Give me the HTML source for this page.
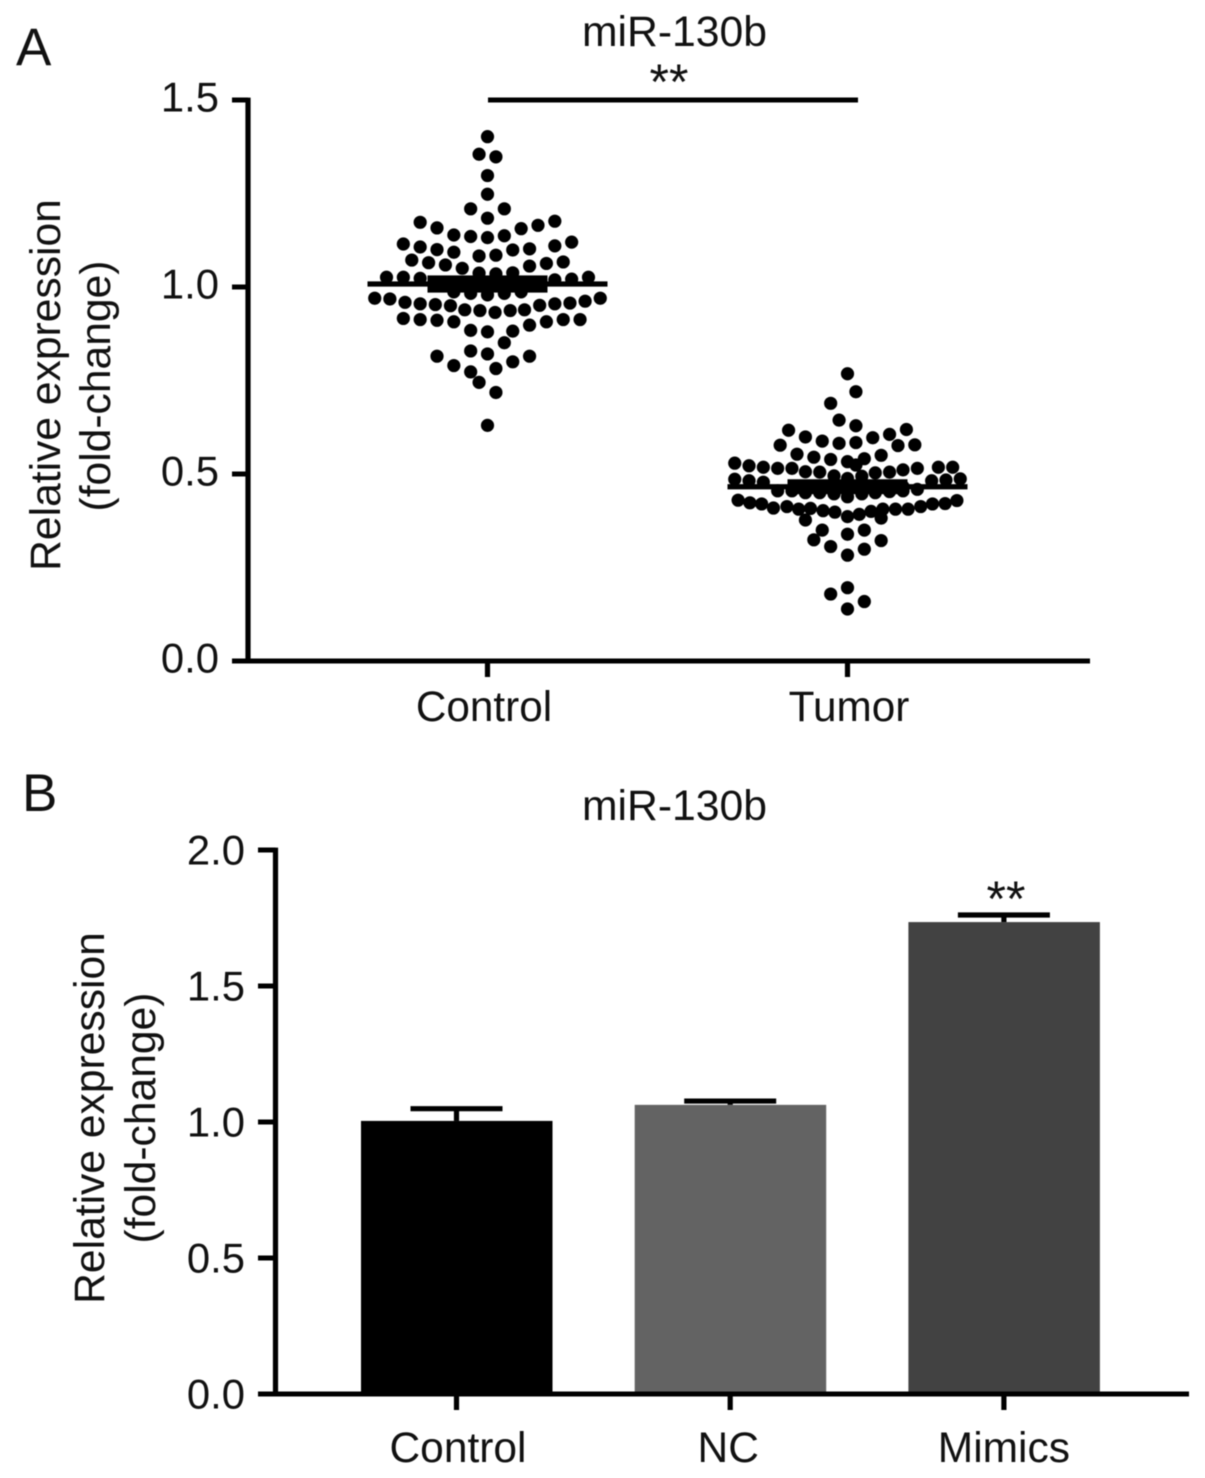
<!DOCTYPE html>
<html lang="en">
<head>
<meta charset="utf-8">
<title>miR-130b relative expression</title>
<style>
html,body{margin:0;padding:0;background:#fff;}
#figure{display:block;width:1205px;height:1478px;filter:blur(0.5px);}
text{font-family:"Liberation Sans",Arial,sans-serif;fill:#111;}
</style>
</head>
<body>
<svg id="figure" xmlns="http://www.w3.org/2000/svg" width="1205" height="1478" viewBox="0 0 1205 1478"></svg>
<script>
/* Panel A data */
const swarmCategories = ['Control', 'Tumor'];
const swarmTicks = [0, 0.5, 1, 1.5];
const swarmTickLabels = ['0.0', '0.5', '1.0', '1.5'];
const swarmMeans = [1.008, 0.466];
const swarmSems = [0.023, 0.02];
const controlValues = [1.402,1.355,1.348,1.298,1.248,1.209,1.209,1.184,1.173,1.158,1.176,1.165,1.156,1.139,1.135,1.132,1.137,1.115,1.107,1.100,1.093,1.083,1.085,1.099,1.102,1.110,1.120,1.072,1.065,1.059,1.050,1.056,1.063,1.067,1.026,1.026,1.023,1.037,1.035,1.038,1.019,1.021,1.026,1.01,1.01,1.0,1.01,1.0,1.01,1.01,0.987,0.983,0.979,0.983,0.987,0.970,0.968,0.959,0.955,0.953,0.950,0.939,0.937,0.932,0.937,0.939,0.951,0.955,0.957,0.962,0.970,0.916,0.913,0.911,0.907,0.884,0.880,0.882,0.898,0.907,0.913,0.913,0.851,0.829,0.821,0.815,0.815,0.800,0.790,0.782,0.773,0.745,0.718,0.630];
const controlSlots = [0,-0.5,0.5,0,0,-1,1,0,-4,-3,4,3,2,-2,-1,0,1,-5,-4,-3,-2,-0.5,0.5,1.5,2.5,4,5,-4.5,-3.5,-2.5,-1.5,2.5,3.5,4.5,-6,-5,-4,-0.5,0.5,1.5,4,5,6,-3,-2,-1,0,1,2,3,-2,-1,0,1,2,-6.7,-5.8,-4.9,-4,-3.1,-2.2,-1.35,-0.45,0.45,1.35,2.2,3.1,4,4.9,5.8,6.7,-5,-4,-3,-2,-1,0,1.5,2.5,3.5,4.5,5.5,1,-1,0,-3,2.5,1.5,-2,0.5,-1,-0.5,0.5,0];
const tumorValues = [0.768,0.720,0.689,0.644,0.629,0.617,0.619,0.606,0.599,0.597,0.588,0.582,0.584,0.577,0.576,0.578,0.553,0.545,0.539,0.533,0.541,0.550,0.524,0.529,0.522,0.518,0.515,0.515,0.506,0.505,0.495,0.488,0.494,0.503,0.505,0.511,0.515,0.518,0.518,0.486,0.482,0.478,0.482,0.484,0.487,0.466,0.466,0.466,0.466,0.466,0.466,0.466,0.455,0.455,0.450,0.450,0.447,0.439,0.447,0.450,0.453,0.455,0.459,0.430,0.423,0.420,0.409,0.413,0.406,0.408,0.402,0.398,0.386,0.392,0.400,0.406,0.406,0.406,0.413,0.420,0.421,0.429,0.377,0.382,0.350,0.339,0.350,0.324,0.322,0.306,0.299,0.283,0.196,0.179,0.159,0.139];
const tumorSlots = [0,0.5,-1,-0.5,0.5,-3.5,3.5,2.5,-2.5,1.5,-1.5,-0.5,0.5,-4,3,4,-3,-2,-1,0,1,2,0.5,-6.7,-5.85,-5,-4.15,-3.3,-2.5,-1.65,-0.8,0,0.85,1.65,2.5,3.3,4.15,5.4,6.25,-6.7,-5.85,-5,5,5.85,6.7,-2.5,-1.65,-0.8,0.85,1.65,2.5,3.3,-4.15,-3.3,-2.5,-1.65,-0.8,0,0.85,1.65,2.5,3.3,4.15,-6.5,-5.8,-5.1,-4.4,-3.6,-2.9,-2.2,-1.45,-0.75,0,0.7,1.4,2.1,2.85,3.6,4.35,5.05,5.8,6.5,-2.5,2,-1.5,0,1,-2,2,-1,1,0,0,-1,1,0];

/* Panel B data */
const barCategories = ['Control', 'NC', 'Mimics'];
const barValues = [1.004, 1.063, 1.735];
const barErrors = [0.045, 0.014, 0.026];
const barTicks = [0, 0.5, 1, 1.5, 2];
const barTickLabels = ['0.0', '0.5', '1.0', '1.5', '2.0'];

const NS = 'http://www.w3.org/2000/svg';
const svg = document.getElementById('figure');

function mk(tag, attrs, parent) {
  const el = document.createElementNS(NS, tag);
  for (const k in attrs) el.setAttribute(k, attrs[k]);
  (parent || svg).appendChild(el);
  return el;
}
function txt(str, x, y, size, anchor, rot, parent) {
  const a = {x: x, y: y, 'font-size': size, 'text-anchor': anchor || 'middle'};
  if (rot) a.transform = 'rotate(-90 ' + x + ' ' + y + ')';
  const t = mk('text', a, parent);
  t.textContent = str;
  return t;
}
function ln(x1, y1, x2, y2, w, parent) {
  return mk('line', {x1: x1, y1: y1, x2: x2, y2: y2, stroke: '#000', 'stroke-width': w}, parent);
}

/* Axis functions */
const yA = v => 661 - v * 374;
const xA = i => 487.5 + i * 360;
const SLOT = 16.83;
const yB = v => 1394 - v * 272;
const xB = i => 456.5 + i * 273.7;

/* ---------- Panel A ---------- */
const panelA = mk('g', {});



const letterA = txt('A', 16, 65, 53, 'start', false, panelA);



const titleA = txt('miR-130b', 674.5, 46, 42.7, 'middle', false, panelA);



const yTitleA1 = txt('Relative expression', 60, 385, 42.6, 'middle', true, panelA);


const yTitleA2 = txt('(fold-change)', 110, 386, 42.6, 'middle', true, panelA);



const yAxisA = ln(248, yA(1.5) - 2.4, 248, yA(0) + 2.4, 5.2, panelA);


const xAxisA = ln(232, yA(0), 1090, yA(0), 5, panelA);



swarmTicks.forEach(function (t, i) {
  const tick = ln(232, yA(t), 248, yA(t), 5, panelA);
  
  
  const label = txt(swarmTickLabels[i], 219, yA(t) + 11.5, 41.8, 'end', false, panelA);
  
  
});

swarmCategories.forEach(function (c, i) {
  const tick = ln(xA(i), yA(0), xA(i), 677, 5.2, panelA);
  
  
  const label = txt(c, xA(i) - 3.5 + i * 5, 721, 42.3, 'middle', false, panelA);
  
  
});

const sigLine = ln(488, 100, 858, 100, 5, panelA);


const sigStars = txt('**', 669, 99, 50, 'middle', false, panelA);



[[controlValues, controlSlots], [tumorValues, tumorSlots]].forEach(function (group, g) {
  group[0].forEach(function (v, i) {
    const dot = mk('circle', {cx: xA(g) + group[1][i] * SLOT, cy: yA(v), r: 6.6, fill: '#000'}, panelA);
    
    
  });
  const meanLine = ln(xA(g) - 120, yA(swarmMeans[g]), xA(g) + 120, yA(swarmMeans[g]), 5.2, panelA);
  
  
  const semBand = mk('rect', {
    x: xA(g) - 60,
    y: yA(swarmMeans[g] + swarmSems[g]),
    width: 120,
    height: yA(swarmMeans[g] - swarmSems[g]) - yA(swarmMeans[g] + swarmSems[g]),
    fill: '#000'
  }, panelA);
  
  
});

/* ---------- Panel B ---------- */
const panelB = mk('g', {});



const letterB = txt('B', 22, 811, 53, 'start', false, panelB);



const titleB = txt('miR-130b', 674.5, 820, 42.7, 'middle', false, panelB);



const yTitleB1 = txt('Relative expression', 104, 1118, 42.6, 'middle', true, panelB);


const yTitleB2 = txt('(fold-change)', 155, 1118, 42.6, 'middle', true, panelB);



const barColors = ['#000000', '#636363', '#424242'];
const barLabelShift = [1.5, -2, 0];
barCategories.forEach(function (c, i) {
  const err = ln(xB(i), yB(barValues[i]), xB(i), yB(barValues[i] + barErrors[i]), 5.2, panelB);
  
  
  const cap = ln(xB(i) - 46, yB(barValues[i] + barErrors[i]), xB(i) + 46, yB(barValues[i] + barErrors[i]), 5.2, panelB);
  
  
  const bar = mk('rect', {
    x: xB(i) - 95.5,
    y: yB(barValues[i]),
    width: 191.5,
    height: yB(0) - yB(barValues[i]),
    fill: barColors[i]
  }, panelB);
  
  
  const tick = ln(xB(i), yB(0), xB(i), 1410, 5.2, panelB);
  
  
  const label = txt(c, xB(i) + barLabelShift[i], 1462, 42.5, 'middle', false, panelB);
  
  
});

const yAxisB = ln(275.5, yB(2) - 2.4, 275.5, yB(0) + 2.4, 5.2, panelB);


const xAxisB = ln(258, yB(0), 1189, yB(0), 5, panelB);



barTicks.forEach(function (t, i) {
  const tick = ln(258, yB(t), 275.5, yB(t), 5, panelB);
  
  
  const label = txt(barTickLabels[i], 245, yB(t) + 14.5, 41.8, 'end', false, panelB);
  
  
});

const barStars = txt('**', 1006, 916, 50, 'middle', false, panelB);


</script>
</body>
</html>
